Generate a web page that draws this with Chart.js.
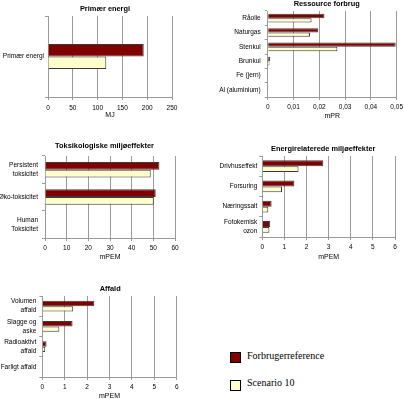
<!DOCTYPE html>
<html>
<head>
<meta charset="utf-8">
<script src="https://cdn.jsdelivr.net/npm/chart.js@4.4.1/dist/chart.umd.min.js"></script>
<style>
  body { margin: 0; width: 404px; height: 399px; overflow: hidden; background: #fff; position: relative; }
  canvas { position: absolute; }
  .sw { position: absolute; width: 11px; height: 11px; box-sizing: border-box; border: 1px solid #000; }
  .lt { position: absolute; font: 10px "Liberation Serif", "Times New Roman", serif; line-height: 10px; color: #000; white-space: nowrap; }
</style>
</head>
<body>
<canvas id="c1"></canvas>
<canvas id="c2"></canvas>
<canvas id="c3"></canvas>
<canvas id="c4"></canvas>
<canvas id="c5"></canvas>
<script>
// serier
const serieNavne = ["Forbrugerreference", "Scenario 10"];
const serieFarver = ["#800000", "#FFFFCC"];

// Primær energi (MJ)
const primaerLabels = ["Primær energi"];
const primaerRef = [193];
const primaerScen = [117.5];
const primaerTicks = [0, 50, 100, 150, 200, 250];

// Ressource forbrug (mPR)
const ressLabels = ["Råolie", "Naturgas", "Stenkul", "Brunkul", "Fe (jern)", "Al (aluminium)"];
const ressRef = [0.022, 0.0196, 0.0496, 0.001, 0, 0.0003];
const ressScen = [0.017, 0.0164, 0.027, 0.0007, 0, 0.0002];
const ressTicks = [0, 0.01, 0.02, 0.03, 0.04, 0.05];

// Toksikologiske miljøeffekter (mPEM)
const toksLabels = [["Persistent", "toksicitet"], "Øko-toksicitet", ["Human", "Toksicitet"]];
const toksRef = [52.8, 51.1, 0.3];
const toksScen = [48.8, 50.2, 0.2];
const toksTicks = [0, 10, 20, 30, 40, 50, 60];

// Energirelaterede miljøeffekter (mPEM)
const energiLabels = ["Drivhuseffekt", "Forsuring", "Næringssalt", ["Fotokemisk", "ozon"]];
const energiRef = [2.76, 1.45, 0.42, 0.36];
const energiScen = [1.64, 0.89, 0.27, 0.32];
const energiTicks = [0, 1, 2, 3, 4, 5, 6];

// Affald (mPEM)
const affaldLabels = [["Volumen", "affald"], ["Slagge og", "aske"], ["Radioaktivt", "affald"], "Farligt affald"];
const affaldRef = [2.32, 1.35, 0.19, 0];
const affaldScen = [1.38, 0.76, 0.13, 0];
const affaldTicks = [0, 1, 2, 3, 4, 5, 6];

const FONT = "'Liberation Sans', Arial, sans-serif";
const GRAA = "#9a9a9a";
const TITEL_STR = 7.4;

// flytter titlen vandret hen over det punkt den står i originalen
const titelPlacering = {
  id: "titelPlacering",
  afterLayout(chart, args, opts) {
    const tb = chart.titleBlock;
    if (!tb) return;
    tb.left = opts.cx - 100;
    tb.right = opts.cx + 100;
  },
};

// tegner et diagram så plotområdet lander præcis hvor det skal
function lavDiagram(id, titel, enhed, labels, ref, scen, ticks, pos) {
  const cv = document.getElementById(id);
  cv.width = pos.w;
  cv.height = pos.h;
  cv.style.left = pos.left + "px";
  cv.style.top = pos.top + "px";

  const pr = pos.left + pos.w - pos.r;
  const yBredde = pos.l - pos.left;
  const tLinje = TITEL_STR * 1.2;
  const tPadTop = Math.max(0, pos.cy - pos.top - tLinje / 2);
  const tPadBund = pos.t - pos.top - tPadTop - tLinje;
  const xHoejde = pos.top + pos.h - pos.b;

  return new Chart(cv, {
    type: "bar",
    data: {
      labels: labels,
      datasets: [
        { label: serieNavne[0], data: ref, backgroundColor: serieFarver[0], borderColor: "#3a3a3a",
          borderWidth: 1, categoryPercentage: pos.frac, barPercentage: 1 },
        { label: serieNavne[1], data: scen, backgroundColor: serieFarver[1], borderColor: "#3a3a3a",
          borderWidth: 1, categoryPercentage: pos.frac, barPercentage: 1 },
      ],
    },
    plugins: [titelPlacering],
    options: {
      indexAxis: "y",
      responsive: false,
      animation: false,
      devicePixelRatio: 1,
      layout: { padding: { left: 0, right: pr, top: 0, bottom: 0 } },
      plugins: {
        legend: { display: false },
        tooltip: { enabled: false },
        titelPlacering: { cx: pos.cx - pos.left },
        title: {
          display: true,
          text: titel,
          color: "#000",
          font: { family: FONT, size: TITEL_STR, weight: "bold", lineHeight: 1.2 },
          padding: { top: tPadTop, bottom: tPadBund },
        },
      },
      scales: {
        x: {
          min: ticks[0],
          max: ticks[ticks.length - 1],
          afterBuildTicks: (s) => { s.ticks = ticks.map((v) => ({ value: v })); },
          afterFit: (s) => { s.height = xHoejde; s.paddingLeft = 0; s.paddingRight = 0; },
          grid: { color: GRAA, lineWidth: 1, tickLength: 3 },
          border: { color: GRAA },
          ticks: {
            color: "#000",
            font: { family: FONT, size: 6.5, lineHeight: 1.2 },
            padding: pos.tickCy - pos.b - 3 - 3.9,
            maxRotation: 0,
            autoSkip: false,
            callback: (v) => String(v).replace(".", ","),
          },
          title: {
            display: true,
            text: enhed,
            color: "#000",
            font: { family: FONT, size: 7, lineHeight: 1.2 },
            padding: { top: 0, bottom: pos.top + pos.h - pos.axCy - 4.2 },
          },
        },
        y: {
          afterFit: (s) => { s.width = yBredde; s.paddingTop = 0; s.paddingBottom = 0; },
          grid: { drawOnChartArea: false, color: GRAA, tickLength: 3 },
          border: { color: GRAA },
          ticks: {
            color: "#000",
            font: { family: FONT, size: 6.5, lineHeight: 1.4 },
            padding: pos.gap,
            autoSkip: false,
          },
        },
      },
    },
  });
}

lavDiagram("c1", "Primær energi", "MJ", primaerLabels, primaerRef, primaerScen, primaerTicks,
  { left: 0, top: 0, w: 200, h: 122, l: 48, t: 16, r: 172, b: 97, cx: 105, cy: 9.3, tickCy: 108, axCy: 115.5, gap: 1, frac: 0.31 });

lavDiagram("c2", "Ressource forbrug", "mPR", ressLabels, ressRef, ressScen, ressTicks,
  { left: 200, top: 0, w: 204, h: 122, l: 267.7, t: 11, r: 396.7, b: 97, cx: 326.7, cy: 4.3, tickCy: 107.7, axCy: 115.7, gap: 4, frac: 0.6 });

lavDiagram("c3", "Toksikologiske miljøeffekter", "mPEM", toksLabels, toksRef, toksScen, toksTicks,
  { left: 0, top: 125, w: 200, h: 140, l: 45, t: 156, r: 175, b: 238, cx: 104.5, cy: 146, tickCy: 248.3, axCy: 257, gap: 4, frac: 0.57 });

lavDiagram("c4", "Energirelaterede miljøeffekter", "mPEM", energiLabels, energiRef, energiScen, energiTicks,
  { left: 200, top: 125, w: 204, h: 140, l: 262.3, t: 156, r: 395, b: 237, cx: 323.2, cy: 149, tickCy: 247.3, axCy: 257, gap: 2, frac: 0.58 });

lavDiagram("c5", "Affald", "mPEM", affaldLabels, affaldRef, affaldScen, affaldTicks,
  { left: 0, top: 265, w: 200, h: 138, l: 42.3, t: 296, r: 176.7, b: 377, cx: 110.2, cy: 289, tickCy: 387.3, axCy: 396.3, gap: 3, frac: 0.53 });

// forklaring nederst til højre
const legTop = [352, 380];
const tekstTop = [351, 377.6];
serieNavne.forEach((navn, i) => {
  const sw = document.createElement("div");
  sw.className = "sw";
  sw.style.left = "230px";
  sw.style.top = legTop[i] + "px";
  sw.style.background = serieFarver[i];
  document.body.appendChild(sw);
  const t = document.createElement("div");
  t.className = "lt";
  t.style.left = "247px";
  t.style.top = tekstTop[i] + "px";
  t.textContent = navn;
  document.body.appendChild(t);
});
</script>
</body>
</html>
